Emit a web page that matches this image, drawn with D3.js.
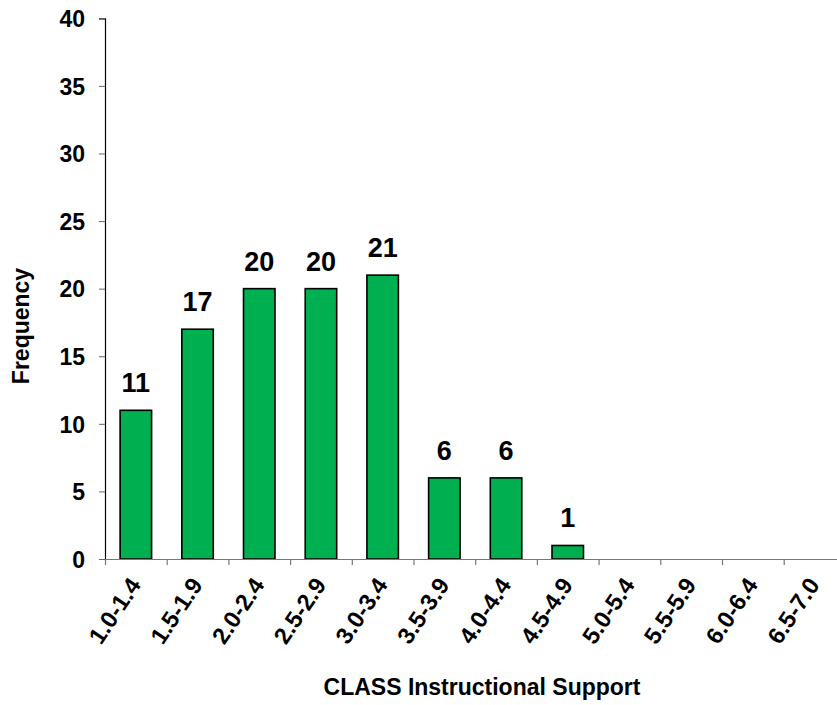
<!DOCTYPE html>
<html>
<head>
<meta charset="utf-8">
<script src="https://cdn.jsdelivr.net/npm/d3@7"></script>
<style>
  html, body { margin: 0; padding: 0; background: #fff; }
  svg { display: block; font-family: "Liberation Sans", Arial, sans-serif; font-weight: bold; }
</style>
</head>
<body>
<svg id="chart" width="837" height="705"></svg>
<script>
// Score bands of CLASS Instructional Support and their counts
const categories = ["1.0-1.4", "1.5-1.9", "2.0-2.4", "2.5-2.9", "3.0-3.4", "3.5-3.9",
                    "4.0-4.4", "4.5-4.9", "5.0-5.4", "5.5-5.9", "6.0-6.4", "6.5-7.0"];
const frequencies = [11, 17, 20, 20, 21, 6, 6, 1, 0, 0, 0, 0];
const yTicks = [0, 5, 10, 15, 20, 25, 30, 35, 40];

const svg = d3.select("#chart");
const plotLeft = 105, plotRight = 845.4, plotTop = 18.3, plotBottom = 559;

const x = d3.scaleBand().domain(categories).range([plotLeft, plotRight])
  .paddingInner(0.49).paddingOuter(0.245);
const edge = d3.scaleLinear().domain([0, categories.length]).range([plotLeft, plotRight]);
const y = d3.scaleLinear().domain([0, 40]).range([plotBottom, plotTop]);

// Y axis
const yAxis = svg.append("g").attr("transform", `translate(${plotLeft},0)`)
  .call(d3.axisLeft(y).tickValues(yTicks).tickSize(6).tickPadding(14));
yAxis.select(".domain").attr("stroke", "#000").attr("stroke-width", 1.2);
yAxis.selectAll(".tick line").attr("stroke", "#666");
yAxis.selectAll(".tick text").attr("font-size", 23).attr("font-family", null)
  .attr("fill", "#000").attr("dy", "0.36em");

// Bars
svg.append("g").selectAll("rect")
  .data(categories.map((c, i) => ({ c, v: frequencies[i] })).filter(d => d.v > 0))
  .join("rect")
  .attr("x", d => x(d.c))
  .attr("y", d => y(d.v))
  .attr("width", x.bandwidth())
  .attr("height", d => y(0) - y(d.v))
  .attr("fill", "#00B050")
  .attr("stroke", "#000")
  .attr("stroke-width", 1.6);

// X axis: boundary ticks between categories
const xAxis = svg.append("g").attr("transform", `translate(0,${plotBottom})`)
  .call(d3.axisBottom(edge).tickValues(d3.range(categories.length + 1))
    .tickFormat("").tickSize(6).tickSizeOuter(0));
xAxis.select(".domain").attr("stroke", "#777").attr("stroke-width", 1.2);
xAxis.selectAll(".tick line").attr("stroke", "#777").attr("stroke-width", 1.2);

// Rotated category labels
const xLabels = svg.append("g").attr("transform", `translate(0,${plotBottom})`)
  .call(d3.axisBottom(x).tickSize(0).tickPadding(0));
xLabels.select(".domain").remove();
xLabels.selectAll(".tick text")
  .attr("font-size", 23.5).attr("font-family", null).attr("fill", "#000")
  .attr("text-anchor", "end")
  .attr("dy", null).attr("y", 0)
  .attr("transform", "translate(6,26) rotate(-56)");

// Value labels
svg.append("g").selectAll("text")
  .data(categories.map((c, i) => ({ c, v: frequencies[i] })).filter(d => d.v > 0))
  .join("text")
  .attr("x", d => x(d.c) + x.bandwidth() / 2)
  .attr("y", d => y(d.v) - 18)
  .attr("text-anchor", "middle")
  .attr("font-size", 27)
  .text(d => d.v);

// Axis titles
svg.append("text")
  .attr("x", 482).attr("y", 695)
  .attr("text-anchor", "middle").attr("font-size", 23)
  .text("CLASS Instructional Support");
svg.append("text")
  .attr("transform", "translate(28.5,326) rotate(-90)")
  .attr("text-anchor", "middle").attr("font-size", 23)
  .text("Frequency");
</script>
</body>
</html>
